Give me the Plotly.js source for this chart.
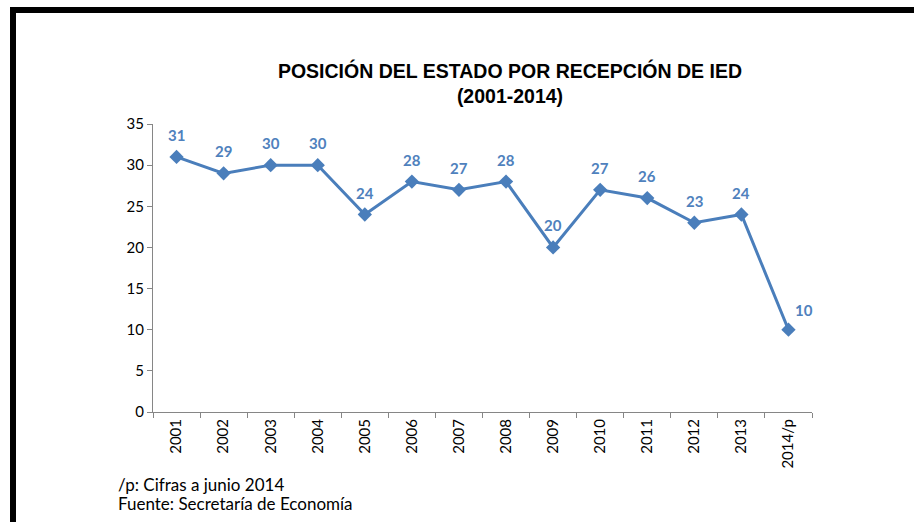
<!DOCTYPE html>
<html>
<head>
<meta charset="utf-8">
<script src="https://cdn.plot.ly/plotly-3.0.1.min.js"></script>
<style>html,body{margin:0;padding:0;background:#fff;}#chart{width:914px;height:522px;}</style>
</head>
<body>
<div id="chart"></div>
<script>
const years = ["2001","2002","2003","2004","2005","2006","2007","2008","2009","2010","2011","2012","2013","2014/p"];
const positions = [31,29,30,30,24,28,27,28,20,27,26,23,24,10];
const yTicks = [0,5,10,15,20,25,30,35];

const W = 914, H = 522;
const L = 153, R = 812, T = 124, B = 412;
const px = v => (v - L) / (R - L);
const py = v => (B - v) / (B - T);

const blue = '#4A7EBB';
const labelBlue = '#4F81BD';

const labelAnns = years.map((y, i) => ({
  x: i, y: positions[i], xref: 'x', yref: 'y',
  text: String(positions[i]), showarrow: false,
  xshift: i === years.length - 1 ? 16 : 0,
  yshift: i === years.length - 1 ? 20 : 22,
  font: {family: 'Lato, "Open Sans", sans-serif', size: 15, color: labelBlue, weight: 'bold'}
}));

const trace = {
  x: years, y: positions, type: 'scatter', mode: 'lines+markers',
  line: {color: blue, width: 3},
  marker: {symbol: 'diamond', size: 11, color: blue},
  hoverinfo: 'x+y'
};

const layout = {
  width: W, height: H,
  margin: {l: L, r: W - R, t: T, b: H - B, pad: 0},
  paper_bgcolor: '#fff', plot_bgcolor: '#fff',
  showlegend: false,
  title: {
    text: '<b>POSICIÓN DEL ESTADO POR RECEPCIÓN DE IED</b><br><b>(2001-2014)</b>',
    font: {family: '"Liberation Sans", Arial, sans-serif', size: 19.5, color: '#000'},
    xref: 'container', yref: 'container', x: 510 / W, y: 1 - 78 / H,
    xanchor: 'center', yanchor: 'middle'
  },
  xaxis: {
    type: 'category', categoryarray: years, range: [-0.5, years.length - 0.5],
    showline: true, linecolor: '#868686', linewidth: 1,
    ticks: 'outside', ticklen: 5, tickcolor: '#868686', tickson: 'boundaries',
    showgrid: false, zeroline: false, tickangle: -90,
    tickfont: {family: 'Lato, "Open Sans", sans-serif', size: 15, color: '#000'},
    fixedrange: true
  },
  yaxis: {
    range: [0, 35], tickvals: yTicks, ticktext: yTicks.map(String),
    showline: true, linecolor: '#868686', linewidth: 1,
    ticks: 'outside', ticklen: 5, tickcolor: '#868686',
    showgrid: false, zeroline: false,
    tickfont: {family: 'Lato, "Open Sans", sans-serif', size: 15, color: '#000'},
    fixedrange: true
  },
  shapes: [
    {type: 'rect', xref: 'paper', yref: 'paper', x0: px(10), x1: px(16), y0: py(H + 5), y1: py(7), fillcolor: '#000', line: {width: 0}, layer: 'above'},
    {type: 'rect', xref: 'paper', yref: 'paper', x0: px(10), x1: px(W + 5), y0: py(13), y1: py(7), fillcolor: '#000', line: {width: 0}, layer: 'above'}
  ],
  annotations: labelAnns.concat([
    {xref: 'paper', yref: 'paper', x: px(116), y: py(484), xanchor: 'left', yanchor: 'middle', showarrow: false,
     text: '/p: Cifras a junio 2014', font: {family: 'Lato, "Open Sans", sans-serif', size: 17, color: '#000'}},
    {xref: 'paper', yref: 'paper', x: px(116), y: py(503), xanchor: 'left', yanchor: 'middle', showarrow: false,
     text: 'Fuente: Secretaría de Economía', font: {family: 'Lato, "Open Sans", sans-serif', size: 17, color: '#000'}}
  ])
};

Plotly.newPlot('chart', [trace], layout, {displayModeBar: false, staticPlot: true});
</script>
</body>
</html>
